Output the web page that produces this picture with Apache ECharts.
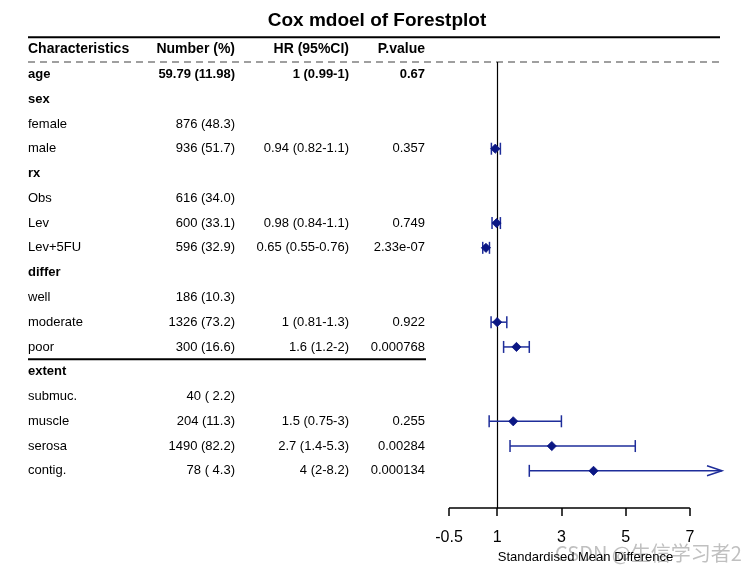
<!DOCTYPE html>
<html>
<head>
<meta charset="utf-8">
<script src="https://cdn.jsdelivr.net/npm/echarts@6/dist/echarts.min.js"></script>
<style>
html,body{margin:0;padding:0;background:#fff;}
#chart{width:754px;height:574px;}
</style>
</head>
<body>
<div id="chart"></div>
<script>
// ---------- data ----------
var labels = ['age','sex','female','male','rx','Obs','Lev','Lev+5FU','differ','well','moderate','poor','extent','submuc.','muscle','serosa','contig.'];
var boldLabel = [true,true,false,false,true,false,false,false,true,false,false,false,true,false,false,false,false];
var boldRow = [true,false,false,false,false,false,false,false,false,false,false,false,false,false,false,false,false];
var numbers = ['59.79 (11.98)','','876 (48.3)','936 (51.7)','','616 (34.0)','600 (33.1)','596 (32.9)','','186 (10.3)','1326 (73.2)','300 (16.6)','','40 ( 2.2)','204 (11.3)','1490 (82.2)','78 ( 4.3)'];
var hrText = ['1 (0.99-1)','','','0.94 (0.82-1.1)','','','0.98 (0.84-1.1)','0.65 (0.55-0.76)','','','1 (0.81-1.3)','1.6 (1.2-2)','','','1.5 (0.75-3)','2.7 (1.4-5.3)','4 (2-8.2)'];
var pText = ['0.67','','','0.357','','','0.749','2.33e-07','','','0.922','0.000768','','','0.255','0.00284','0.000134'];
var est = [null,null,null,0.94,null,null,0.98,0.65,null,null,1,1.6,null,null,1.5,2.7,4];
var lower = [null,null,null,0.82,null,null,0.84,0.55,null,null,0.81,1.2,null,null,0.75,1.4,2];
var upper = [null,null,null,1.1,null,null,1.1,0.76,null,null,1.3,2,null,null,3,5.3,8.2];
var headers = ['Characteristics','Number (%)','HR (95%CI)','P.value'];
var tickValues = [-0.5,1,3,5,7];
var xMin = -0.5, xMax = 8, refLine = 1;

// ---------- layout ----------
var FONT = '"Liberation Sans", Arial, sans-serif';
var colX = [28, 235, 349, 425];
var colAlign = ['left','right','right','right'];
var lineColor = '#1E2D9A', markColor = '#0B1784';

var chart = echarts.init(document.getElementById('chart'));

var ciData = [];
for (var i = 0; i < labels.length; i++) {
  if (est[i] !== null) ciData.push([est[i], lower[i], upper[i], i]);
}
var rowData = labels.map(function(_, i){ return [0, i]; });

function txt(s, x, y, align, bold, size) {
  return {type:'text', style:{text:s, x:x, y:y, align:align, verticalAlign:'middle',
    font:(bold?'bold ':'') + (size||13) + 'px ' + FONT, fill:'#000'}};
}

var option = {
  animation:false,
  backgroundColor:'#fff',
  title:{text:'Cox mdoel of Forestplot', left:'center', top:6,
    textStyle:{fontSize:19, fontWeight:'bold', color:'#000', fontFamily:FONT}},
  grid:{left:449, right:32, top:62, bottom:66},
  xAxis:{type:'value', min:xMin, max:xMax,
    splitLine:{show:false},
    axisLine:{show:false, onZero:false},
    axisTick:{show:true, customValues:tickValues, length:8, lineStyle:{color:'#000', width:1.5}},
    axisLabel:{customValues:tickValues, fontSize:16, color:'#000', fontFamily:FONT, margin:22,
      formatter:function(v){ return String(v); }},
    name:'Standardised Mean Difference', nameLocation:'middle', nameGap:42,
    nameTextStyle:{fontSize:13, color:'#000', fontFamily:FONT}},
  yAxis:{type:'value', min:-0.5, max:17.5, inverse:true, show:false},
  graphic:[{type:'text', left:555, top:543, silent:true,
    style:{text:'CSDN @生信学习者2', font:'20px "Noto Sans CJK SC", sans-serif', fill:'rgba(140,140,140,0.55)'}}],
  series:[
    { // table rules
      type:'custom', clip:false, silent:true, z:1,
      data:[[0,0]], encode:{x:0,y:1},
      renderItem:function(params, api){
        var yTop = api.coord([0,-1.5])[1];
        var yDash = api.coord([0,-0.5])[1];
        var yPoor = api.coord([0,11.5])[1];
        return {type:'group', children:[
          {type:'line', shape:{x1:28,y1:yTop,x2:720,y2:yTop}, style:{stroke:'#000', lineWidth:2}},
          {type:'line', shape:{x1:28,y1:yDash,x2:720,y2:yDash}, style:{stroke:'#808080', lineWidth:1.5, lineDash:[7,5]}},
          {type:'line', shape:{x1:28,y1:yPoor,x2:426,y2:yPoor}, style:{stroke:'#000', lineWidth:2}}
        ]};
      }
    },
    { // axis baseline from first to last tick
      type:'custom', clip:false, silent:true, z:3,
      data:[[tickValues[0], tickValues[tickValues.length-1]]], encode:{x:[0,1]},
      renderItem:function(params, api){
        var cs = params.coordSys;
        var yb = cs.y + cs.height;
        var a = api.coord([api.value(0), 0])[0];
        var b = api.coord([api.value(1), 0])[0];
        return {type:'line', shape:{x1:a,y1:yb,x2:b,y2:yb}, style:{stroke:'#000', lineWidth:1.5}};
      }
    },
    { // headers
      type:'custom', clip:false, silent:true,
      data:[[0,-1]], encode:{x:0,y:1},
      renderItem:function(params, api){
        var y = api.coord([0, api.value(1)])[1];
        return {type:'group', children: headers.map(function(h, k){ return txt(h, colX[k], y, colAlign[k], true, 14); })};
      }
    },
    { // table rows
      type:'custom', clip:false, silent:true,
      data:rowData, encode:{x:0,y:1},
      renderItem:function(params, api){
        var r = api.value(1);
        var y = api.coord([0, r])[1];
        var cells = [labels[r], numbers[r], hrText[r], pText[r]];
        var ch = [];
        cells.forEach(function(s, k){
          if (s) ch.push(txt(s, colX[k], y, colAlign[k], k === 0 ? boldLabel[r] : boldRow[r], 13));
        });
        return {type:'group', children:ch};
      }
    },
    { // CI bars and estimates
      type:'custom', clip:false, z:5,
      data:ciData, encode:{x:[0,1,2], y:3},
      renderItem:function(params, api){
        var y = api.coord([0, api.value(3)])[1];
        var xe = api.coord([api.value(0), 0])[0];
        var xl = api.coord([Math.max(api.value(1), xMin), 0])[0];
        var over = api.value(2) > xMax;
        var xh = api.coord([Math.min(api.value(2), xMax), 0])[0];
        var cap = 6, d = 4.6;
        var st = {stroke:lineColor, lineWidth:1.5, fill:null};
        var ch = [
          {type:'line', shape:{x1:xl,y1:y,x2:xh,y2:y}, style:st},
          {type:'line', shape:{x1:xl,y1:y-cap,x2:xl,y2:y+cap}, style:st}
        ];
        if (over) {
          ch.push({type:'polyline', shape:{points:[[xh-15,y-5],[xh,y],[xh-15,y+5]]}, style:st});
        } else {
          ch.push({type:'line', shape:{x1:xh,y1:y-cap,x2:xh,y2:y+cap}, style:st});
        }
        ch.push({type:'polygon', shape:{points:[[xe-d,y],[xe,y-d],[xe+d,y],[xe,y+d]]}, style:{fill:markColor, stroke:markColor, lineWidth:0.8}});
        return {type:'group', children:ch};
      },
      markLine:{silent:true, symbol:'none', label:{show:false}, animation:false,
        lineStyle:{color:'#000', width:1.2, type:'solid'},
        data:[{xAxis:refLine}]}
    }
  ]
};
chart.setOption(option);
</script>
</body>
</html>
